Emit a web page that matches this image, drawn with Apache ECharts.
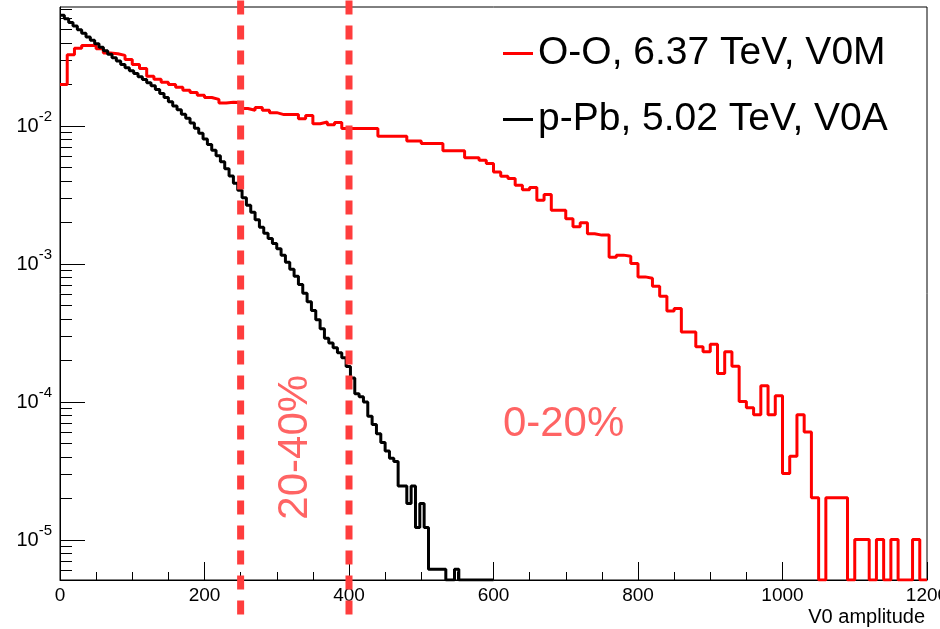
<!DOCTYPE html>
<html><head><meta charset="utf-8">
<script src="https://cdn.jsdelivr.net/npm/echarts@6/dist/echarts.min.js"></script>
<style>html,body{margin:0;padding:0;background:#fff}#c{width:940px;height:629px}</style>
</head><body><div id="c"></div>
<script>
// ---- data ----
const seriesNames = ['O-O, 6.37 TeV, V0M', 'p-Pb, 5.02 TeV, V0A'];
const ooBinWidth = 10;   // V0 amplitude units per bin (0-1200)
const ooValues = [
 0.0200,0.0329,0.0367,0.0384,0.0384,0.0363,0.0338,0.0334,0.0325,0.0303,
 0.0279,0.0261,0.0230,0.0218,0.0208,0.0200,0.0191,0.0182,0.0175,0.0167,
 0.0161,0.0156,0.0147,0.0149,0.0148,0.0134,0.0130,0.0136,0.0130,0.0125,
 0.0121,0.0121,0.0121,0.0113,0.0119,0.0104,0.0107,0.0102,0.0106,0.00958,
 0.00958,0.00958,0.00958,0.00958,0.00842,0.00842,0.00842,0.00842,0.00778,0.00778,
 0.00746,0.00746,0.00746,0.00661,0.00661,0.00661,0.00590,0.00590,0.00565,0.00535,
 0.00465,0.00432,0.00416,0.00372,0.00346,0.00358,0.00290,0.00319,0.00245,0.00245,
 0.00213,0.00186,0.00199,0.00166,0.00162,0.00162,0.00112,0.00116,0.00114,0.00101,
 0.000807,0.000789,0.000690,0.000585,0.000457,0.000476,0.000322,0.000322,0.000251,0.000231,
 0.000262,0.000161,0.000231,0.000182,0.000101,0.0000909,0.0000808,0.000131,0.0000808,0.000111,
 0.0000303,0.0000404,0.0000808,0.0000606,0.0000202,0,0.0000202,0.0000202,0.0000202,0,
 0.0000101,0.0000101,0,0.0000101,0,0.0000101,0,0,0.0000101,0
];
const pPbBinWidth = 6;   // 0-600
const pPbValues = [
 0.0635,0.0598,0.0564,0.0531,0.0499,0.0470,0.0442,0.0418,0.0394,0.0372,
 0.0352,0.0332,0.0313,0.0296,0.0279,0.0265,0.0252,0.0240,0.0228,0.0217,
 0.0206,0.0196,0.0184,0.0172,0.0161,0.0150,0.0140,0.0131,0.0122,0.0114,
 0.0105,0.00964,0.00885,0.00806,0.00735,0.00669,0.00608,0.00552,0.00490,0.00434,
 0.00385,0.00342,0.00302,0.00267,0.00237,0.00209,0.00185,0.00167,0.00153,0.00141,
 0.00129,0.00116,0.00103,0.000918,0.000817,0.000711,0.000615,0.000532,0.000460,0.000395,
 0.000339,0.000290,0.000268,0.000247,0.000228,0.000209,0.000181,0.000149,0.000115,0.000109,
 0.000100,0.0000790,0.0000686,0.0000589,0.0000509,0.0000442,0.0000391,0.0000371,0.0000246,0.0000246,
 0.0000184,0.0000246,0.0000123,0.0000184,0.0000123,0.00000614,0.00000614,0.00000614,0.00000614,0,
 0,0.00000614,0,0,0,0,0,0,0,0
];
const centralityCuts = [250, 400];
const regionLabels = ['20-40%', '0-20%'];
const xTickStep = 200;
const yMajorTicks = [1e-5, 1e-4, 1e-3, 1e-2];

// ---- layout / style ----
const X_MIN = 0, X_MAX = 1200;
const Y_MIN = 5.13e-6, Y_MAX = 0.0729;
const CUT_TOP = 0.0813, CUT_BOT = 2.64e-6;
const RED = '#ff0000', CUT = '#ff3d3d';
const FONT = 'Liberation Sans, Arial, Helvetica, sans-serif';
const regionLabelPos = [[325.6, 4.7e-5, 90], [697, 6.9e-5, 0]];

const yMinorTicks = [];
for (let e = -6; e <= -2; e++) for (let m = 2; m <= 9; m++) {
  const v = m * Math.pow(10, e);
  if (v > Y_MIN && v < Y_MAX) yMinorTicks.push(v);
}

function histPoints(vals, w) {
  const pts = vals.map((v, i) => [i * w, v > 0 ? v : Y_MIN]);
  const last = vals[vals.length - 1];
  pts.push([vals.length * w, last > 0 ? last : Y_MIN]);
  return pts;
}
function sup(v) {
  const e = Math.round(Math.log10(v));
  return '10{s|' + e + '}';
}

const chart = echarts.init(document.getElementById('c'), null, {renderer: 'canvas'});
const series = [
  {name: seriesNames[0], type: 'line', step: 'end', data: histPoints(ooValues, ooBinWidth),
   showSymbol: false, symbol: 'none', lineStyle: {color: RED, width: 3}, itemStyle: {color: RED},
   z: 2, silent: true},
  {name: seriesNames[1], type: 'line', step: 'end', data: histPoints(pPbValues, pPbBinWidth),
   showSymbol: false, symbol: 'none', lineStyle: {color: '#000', width: 3}, itemStyle: {color: '#000'},
   z: 3, silent: true}
];
centralityCuts.forEach(c => series.push({
  type: 'line', data: [[c, CUT_TOP], [c, CUT_BOT]], clip: false, symbol: 'none', silent: true, z: 5,
  lineStyle: {color: CUT, width: 7, type: [14, 11], cap: 'butt'}
}));
series.push({
  type: 'scatter', symbolSize: 0, silent: true, z: 6, clip: false,
  data: regionLabelPos.map((p, i) => ({value: [p[0], p[1]], label: {
    show: true, position: 'inside', formatter: regionLabels[i], rotate: p[2],
    fontSize: 42, color: CUT, fontFamily: FONT}}))
});

chart.setOption({
  animation: false,
  backgroundColor: '#fff',
  grid: {left: 60, top: 7, right: 13, bottom: 49, show: true, borderColor: '#000', borderWidth: 1,
         backgroundColor: 'transparent', containLabel: false, outerBoundsMode: 'none'},
  legend: [
    {data: [seriesNames[0]], left: 498, top: 29, icon: 'rect', itemWidth: 30, itemHeight: 3, itemGap: 7,
     textStyle: {fontSize: 39, color: '#000', fontFamily: FONT}, selectedMode: false},
    {data: [seriesNames[1]], left: 498, top: 95, icon: 'rect', itemWidth: 30, itemHeight: 3, itemGap: 7,
     textStyle: {fontSize: 39, color: '#000', fontFamily: FONT}, selectedMode: false}
  ],
  xAxis: {
    type: 'value', min: X_MIN, max: X_MAX, interval: xTickStep,
    name: 'V0 amplitude', nameLocation: 'end', nameGap: -2,
    nameTextStyle: {fontSize: 20, color: '#000', fontFamily: FONT, align: 'right', verticalAlign: 'top', padding: [27, 0, 0, 0]},
    axisLine: {lineStyle: {color: '#000', width: 1}},
    axisTick: {inside: true, length: 18, lineStyle: {color: '#000'}},
    minorTick: {show: true, splitNumber: 4, length: 8, lineStyle: {color: '#000'}},
    axisLabel: {fontSize: 19, color: '#000', fontFamily: FONT, margin: 6, showMaxLabel: true,
                formatter: v => String(v)},
    splitLine: {show: false}
  },
  yAxis: [
    {type: 'log', logBase: 10, min: Y_MIN, max: Y_MAX,
     axisLine: {lineStyle: {color: '#000', width: 1}},
     axisTick: {inside: true, length: 25, customValues: yMajorTicks, lineStyle: {color: '#000'}},
     axisLabel: {customValues: yMajorTicks, formatter: sup, fontSize: 20, color: '#000', fontFamily: FONT,
                 margin: 8, lineHeight: 34,
                 rich: {s: {fontSize: 15, lineHeight: 15, verticalAlign: 'top', fontFamily: FONT, color: '#000'}}},
     splitLine: {show: false}, minorTick: {show: false}},
    {type: 'log', logBase: 10, min: Y_MIN, max: Y_MAX, position: 'left',
     axisLine: {show: false},
     axisTick: {inside: true, length: 12, customValues: yMinorTicks, lineStyle: {color: '#000'}},
     axisLabel: {show: false}, splitLine: {show: false}}
  ],
  series: series
});
</script></body></html>
